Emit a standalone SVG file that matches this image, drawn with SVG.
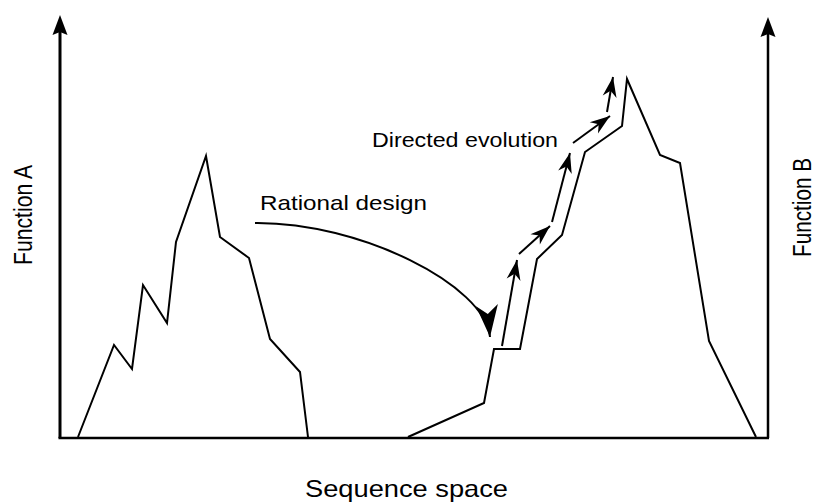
<svg xmlns="http://www.w3.org/2000/svg" width="816" height="502" viewBox="0 0 816 502">
<style>
.ln{fill:none;stroke:#000;stroke-width:2;stroke-linejoin:miter;stroke-linecap:butt}
.ax{fill:none;stroke:#000;stroke-width:3}
.hd{fill:#000;stroke:none}
.tx{font-family:"Liberation Sans",Arial,sans-serif;fill:#000}
</style>
<defs>
<marker id="sm" markerUnits="userSpaceOnUse" markerWidth="24" markerHeight="18" viewBox="-22 -9 24 18" refX="0" refY="0" orient="auto" overflow="visible">
<path d="M0,0 L-20,-7 L-14,0 L-20,7 Z" fill="#000"/>
</marker>
<marker id="big" markerUnits="userSpaceOnUse" markerWidth="36" markerHeight="26" viewBox="-34 -13 36 26" refX="0" refY="0" orient="auto" overflow="visible">
<path d="M0,0 L-32,-11 L-23,0 L-32,11 Z" fill="#000"/>
</marker>
</defs>
<g id="axes">
<line class="ax" x1="60" y1="438" x2="60" y2="30"/>
<path class="hd" d="M60,15 L52.5,35 L60,32 L67.5,35 Z"/>
<line class="ax" x1="768" y1="438" x2="768" y2="32" style="stroke-width:2.5"/>
<path class="hd" d="M768,17 L760.5,37 L768,34 L775.5,37 Z"/>
<line class="ax" x1="58.5" y1="438" x2="769" y2="438" style="stroke-width:2.5"/>
</g>
<g id="landscape-a">
<polyline class="ln" points="78,437 114,345 132,369 143,285 167,323 176,242 206,156 220,237 249,258 270,339 300,372 308,437"/>
</g>
<g id="landscape-b">
<polyline class="ln" points="408,437 484,403 494,349 520,349 537,259 562,235 585,152 622,126 627,79 660,155 680,163 709,341 756,437"/>
</g>
<g id="connectors">
<path class="ln" d="M255,223 C360,222 485,285 490,337" marker-end="url(#big)"/>
<line class="ln" x1="502" y1="346" x2="517" y2="260" marker-end="url(#sm)"/>
<line class="ln" x1="519" y1="254" x2="550" y2="226" marker-end="url(#sm)"/>
<line class="ln" x1="552" y1="222" x2="570" y2="153" marker-end="url(#sm)"/>
<line class="ln" x1="573" y1="143" x2="610" y2="116" marker-end="url(#sm)"/>
<line class="ln" x1="607" y1="112" x2="613" y2="77" marker-end="url(#sm)"/>
</g>
<g id="labels">
<text class="tx" x="260" y="210" font-size="21" textLength="167" lengthAdjust="spacingAndGlyphs">Rational design</text>
<text class="tx" x="372" y="147" font-size="21" textLength="186" lengthAdjust="spacingAndGlyphs">Directed evolution</text>
<text class="tx" x="305" y="497" font-size="24" textLength="203" lengthAdjust="spacingAndGlyphs">Sequence space</text>
<text class="tx" font-size="23" transform="translate(32,265) scale(1.15,1) rotate(-90)" textLength="100" lengthAdjust="spacingAndGlyphs">Function A</text>
<text class="tx" font-size="23" transform="translate(811,257) scale(1.15,1) rotate(-90)" textLength="99" lengthAdjust="spacingAndGlyphs">Function B</text>
</g>
</svg>
